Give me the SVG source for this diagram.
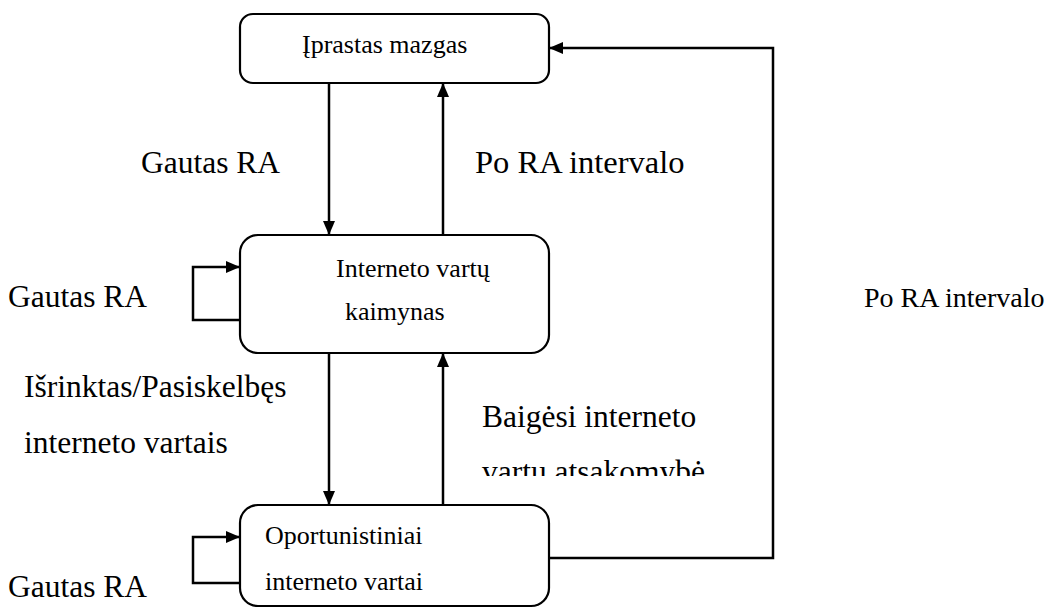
<svg xmlns="http://www.w3.org/2000/svg" width="1051" height="608" viewBox="0 0 1051 608">
  <style>
    .box { fill: #fff; stroke: #000; stroke-width: 2.2; }
    .edge { fill: none; stroke: #000; stroke-width: 2.5; }
    text { font-family: 'Liberation Serif', Tinos, 'Times New Roman', serif; fill: #000; }
    .node-text { font-size: 26px; }
    .label { font-size: 31.5px; }
    .label-small { font-size: 28px; }
    .label-wide { font-size: 32.5px; }
  </style>
  <defs>
    <marker id="arrow" viewBox="0 0 14 12" refX="14" refY="6" markerWidth="14" markerHeight="12" markerUnits="userSpaceOnUse" orient="auto">
      <path d="M0,0 L14,6 L0,12 Z" fill="#000"/>
    </marker>
    <clipPath id="cut-label">
      <rect x="460" y="380" width="300" height="96"/>
    </clipPath>
  </defs>

  <rect width="1051" height="608" fill="#fff"/>

  <g id="connectors">
    <!-- between top and middle state -->
    <line class="edge" x1="329" y1="83" x2="329" y2="235" marker-end="url(#arrow)"/>
    <line class="edge" x1="443" y1="235" x2="443" y2="83" marker-end="url(#arrow)"/>
    <!-- between middle and bottom state -->
    <line class="edge" x1="329" y1="353" x2="329" y2="505" marker-end="url(#arrow)"/>
    <line class="edge" x1="443" y1="505" x2="443" y2="353" marker-end="url(#arrow)"/>
    <!-- self loops -->
    <polyline class="edge" points="240,320 193,320 193,267 240,267" marker-end="url(#arrow)"/>
    <polyline class="edge" points="240,583 193,583 193,537 240,537" marker-end="url(#arrow)"/>
    <!-- bottom state back to top state -->
    <polyline class="edge" points="549,558 773,558 773,48 549,48" marker-end="url(#arrow)"/>
  </g>

  <g id="node-iprastas">
    <rect class="box" x="240" y="14" width="309" height="69" rx="13"/>
    <text class="node-text" x="302" y="53">Įprastas mazgas</text>
  </g>

  <g id="node-kaimynas">
    <rect class="box" x="240" y="235" width="309" height="118" rx="18"/>
    <text class="node-text" x="336" y="277">Interneto vartų</text>
    <text class="node-text" x="345" y="320">kaimynas</text>
  </g>

  <g id="node-oportunistiniai">
    <rect class="box" x="240" y="505" width="309" height="101" rx="18"/>
    <text class="node-text" x="265" y="544">Oportunistiniai</text>
    <text class="node-text" x="265" y="590">interneto vartai</text>
  </g>

  <g id="labels">
    <text class="label" x="141" y="173">Gautas RA</text>
    <text class="label-wide" x="475" y="173">Po RA intervalo</text>
    <text class="label" x="8" y="307">Gautas RA</text>
    <text class="label-small" x="864" y="307">Po RA intervalo</text>
    <text class="label" x="24" y="397">Išrinktas/Pasiskelbęs</text>
    <text class="label" x="24" y="453">interneto vartais</text>
    <text class="label" x="482" y="427">Baigėsi interneto</text>
    <text class="label" x="482" y="482" clip-path="url(#cut-label)">vartų atsakomybė</text>
    <text class="label" x="8" y="597">Gautas RA</text>
  </g>
</svg>
